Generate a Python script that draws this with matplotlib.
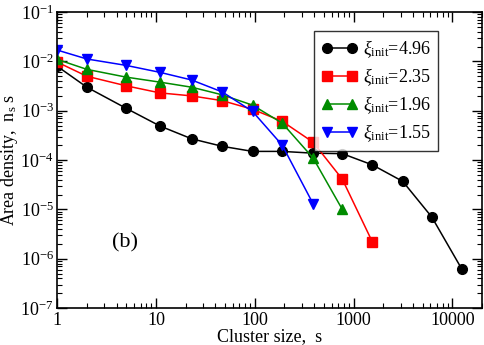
import matplotlib
matplotlib.use('Agg')
import matplotlib.pyplot as plt
from matplotlib.ticker import LogLocator, FixedLocator, NullFormatter

plt.rcParams['font.family'] = ['Liberation Serif', 'DejaVu Serif']
plt.rcParams['mathtext.fontset'] = 'custom'
plt.rcParams['mathtext.rm'] = 'Liberation Serif'
plt.rcParams['mathtext.it'] = 'Liberation Serif:italic'

# tamanhos de cluster (eixo x)
s_black = [1, 2, 5, 11, 23, 47, 95, 190, 390, 770, 1550, 3150, 6200, 12400]
s_red = [1, 2, 5, 11, 23, 47, 95, 190, 390, 770, 1550]
s_green = [1, 2, 5, 11, 23, 47, 95, 190, 390, 770]
s_blue = [1, 2, 5, 11, 23, 47, 95, 190, 390]

# densidade de area n_s s
ns_black = [0.008, 0.003, 0.00112, 0.00049, 0.00027, 0.00019, 0.00015,
            0.00015, 0.000138, 0.000135, 0.00008, 0.000037, 7e-6, 6.3e-7]
ns_red = [0.0097, 0.005, 0.0032, 0.0023, 0.002, 0.0016, 0.00107,
          0.00061, 0.00023, 4.1e-5, 2.2e-6]
ns_green = [0.011, 0.0069, 0.0048, 0.0038, 0.003, 0.0021, 0.0013,
            0.00056, 0.00011, 1e-5]
ns_blue = [0.017, 0.0112, 0.0083, 0.006, 0.0042, 0.0024, 0.00097,
           0.0002, 1.3e-5]

rotulos = [r'$\xi_{\rm init}$=4.96', r'$\xi_{\rm init}$=2.35',
           r'$\xi_{\rm init}$=1.96', r'$\xi_{\rm init}$=1.55']
ytick_vals = [1e-7, 1e-6, 1e-5, 1e-4, 1e-3, 1e-2, 1e-1]
ytick_txt = [r'10$^{\mathdefault{-7}}$', r'10$^{\mathdefault{-6}}$',
             r'10$^{\mathdefault{-5}}$', r'10$^{\mathdefault{-4}}$',
             r'10$^{\mathdefault{-3}}$', r'10$^{\mathdefault{-2}}$',
             r'10$^{\mathdefault{-1}}$']

fig = plt.figure(figsize=(4.84, 3.45), dpi=100)
ax = fig.add_axes([0.118, 0.107, 0.878, 0.858])

ax.plot(s_black, ns_black, '-o', color='black', lw=1.1, ms=7, label=rotulos[0])
ax.plot(s_red, ns_red, '-s', color='#ff0000', lw=1.1, ms=6.5, label=rotulos[1])
ax.plot(s_green, ns_green, '-^', color='#008b00', lw=1.1, ms=7, label=rotulos[2])
ax.plot(s_blue, ns_blue, '-v', color='#0000ff', lw=1.1, ms=7, label=rotulos[3])

ax.set_xscale('log')
ax.set_yscale('log')
ax.set_xlim(1, 20000)
ax.set_ylim(1e-7, 1e-1)

ax.set_xticks([1, 10, 100, 1000, 10000])
ax.set_xticklabels(['1', '10', '100', '1000', '10000'])
ax.xaxis.set_minor_locator(LogLocator(base=10, subs=range(2, 10)))
ax.xaxis.set_minor_formatter(NullFormatter())
ax.yaxis.set_major_locator(FixedLocator(ytick_vals))
ax.set_yticklabels(ytick_txt)
ax.yaxis.set_minor_locator(LogLocator(base=10, subs=range(2, 10)))
ax.yaxis.set_minor_formatter(NullFormatter())

ax.tick_params(which='both', direction='in', top=True, right=True, labelsize=13)
ax.tick_params(which='major', length=7, width=1)
ax.tick_params(which='minor', length=3.5, width=0.8)
ax.tick_params(axis='x', pad=3)
ax.tick_params(axis='y', pad=2.5)
for sp in ax.spines.values():
    sp.set_linewidth(1.2)

ax.set_xlabel('Cluster size,  s', fontsize=13, labelpad=-1)
ax.set_ylabel(r'Area density,  n$_{\rm s}$ s', fontsize=13, labelpad=0)

ax.text(0.13, 0.205, '(b)', transform=ax.transAxes, fontsize=16)

leg = ax.legend(loc='upper right', bbox_to_anchor=(0.897, 0.935), numpoints=2,
                fontsize=13, frameon=True, fancybox=False, handlelength=2.0,
                handletextpad=0.3, borderpad=0.4, labelspacing=0.35,
                borderaxespad=0)
leg.get_frame().set_edgecolor('black')
leg.get_frame().set_linewidth(1)

fig.savefig('out.png', dpi=100)
